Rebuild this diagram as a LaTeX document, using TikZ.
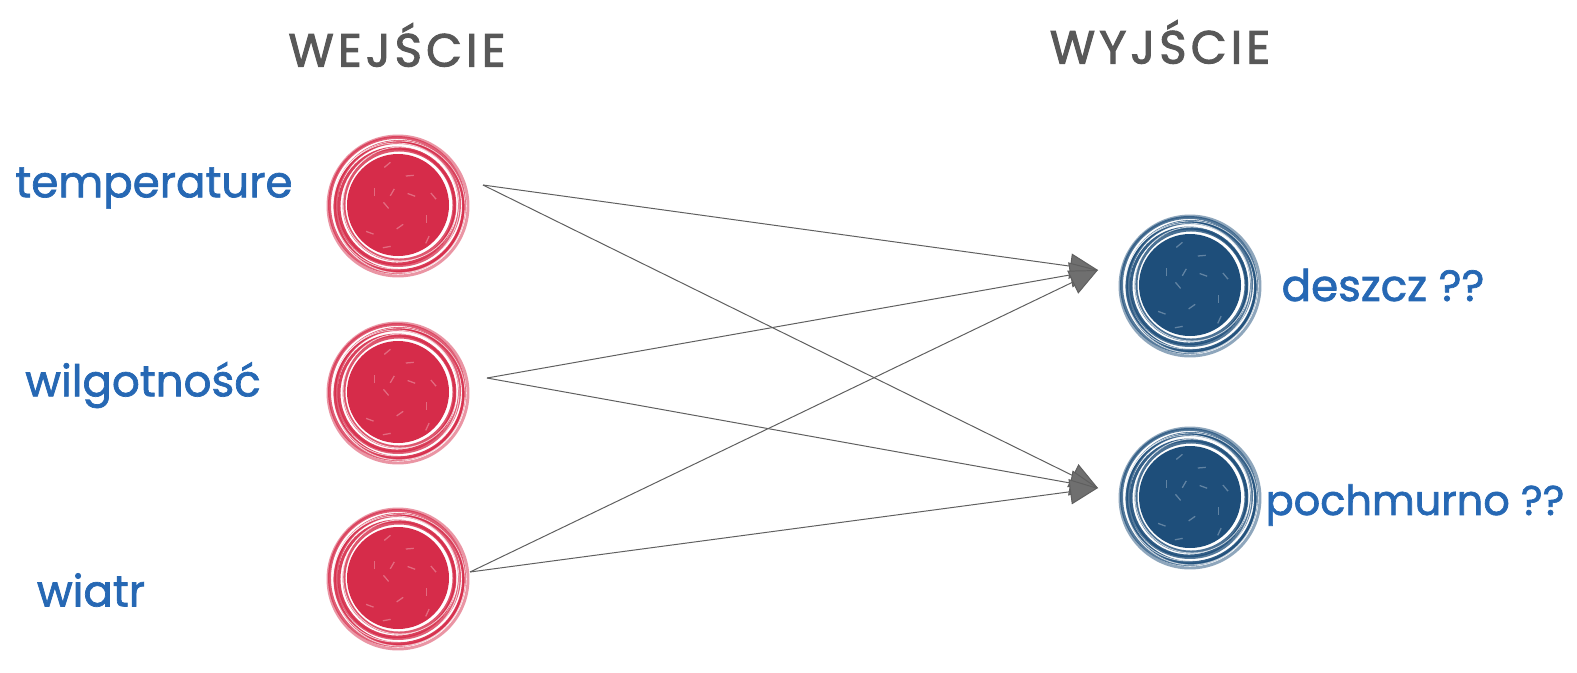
\documentclass[tikz,border=0pt]{standalone}
\usepackage{fontspec}
\setmainfont{Poppins}
\newfontfamily\lblfont[FakeBold=1.6]{Poppins}
\newfontfamily\hdfont[FakeBold=2.2,LetterSpace=9]{Poppins}
\usetikzlibrary{arrows.meta}
\definecolor{inred}{RGB}{214,44,74}
\definecolor{outblue}{RGB}{30,78,122}
\definecolor{lblblue}{RGB}{38,104,180}
\definecolor{hdgray}{RGB}{88,88,88}
\definecolor{wire}{RGB}{95,95,95}
\tikzset{
  pics/ball/.style={code={
    \fill[#1] (0,0) circle (51);
    \foreach \r/\dx/\dy/\o in {55/1/0/0.8, 58/-1/1/0.9, 61.5/0/-1/0.75, 64.5/1/1/0.9, 67.5/-1/0/0.75, 70/0/1/0.5}
      \draw[#1, line width=2.1pt, opacity=\o] (\dx,\dy) circle (\r);
    \foreach \r/\dx/\dy in {57/2/-1, 63/-2/1, 66/1/2}
      \draw[white, line width=0.6pt, opacity=0.7] (\dx,\dy) circle (\r);
    \foreach \a/\rr in {20/30, 75/20, 130/38, 200/25, 250/40, 310/15, 340/35, 160/10, 100/42, 285/30, 45/44, 230/12}
      \draw[white, opacity=0.3, line width=0.9pt] (\a:\rr) -- ++(\a+70:8);
  }},
  holder/.style={circle, minimum size=3.5cm, inner sep=0pt},
  lbl/.style={text=lblblue, font=\lblfont\fontsize{31}{31}\selectfont},
  lblsmall/.style={text=lblblue, font=\lblfont\fontsize{29.5}{30}\selectfont},
  hd/.style={text=hdgray, font=\hdfont\fontsize{33}{33}\selectfont},
  wirearrow/.style={draw=wire, line width=0.7pt, -{Triangle[length=20pt, width=18pt, fill=wire!90]}}
}
\begin{document}
\begin{tikzpicture}[x=0.025cm,y=-0.025cm]
\useasboundingbox (0,0) rectangle (1577,672);
\fill[white] (0,0) rectangle (1577,672);

% headings
\node[hd] (hin) at (397,45) {WEJŚCIE};
\node[hd] (hout) at (1160,42) {WYJŚCIE};

% input neurons
\node[holder] (i1) at (398,205) {};
\node[holder] (i2) at (398,392) {};
\node[holder] (i3) at (398,578) {};
\pic at (i1) {ball=inred};
\pic at (i2) {ball=inred};
\pic at (i3) {ball=inred};

% output neurons
\node[holder] (o1) at (1190,285) {};
\node[holder] (o2) at (1190,497) {};
\pic at (o1) {ball=outblue};
\pic at (o2) {ball=outblue};

% labels
\node[lbl] (l1) at (154,188) {temperature};
\node[lbl] (l2) at (143,385) {wilgotność};
\node[lbl] (l3) at (91,590) {wiatr};
\node[lbl] (l4) at (1383,285) {deszcz ??};
\node[lblsmall] (l5) at (1415,505) {pochmurno ??};

% wire endpoints
\coordinate (s1) at (483,185);
\coordinate (s2) at (487,378);
\coordinate (s3) at (470,572);
\coordinate (t1) at (1098,270);
\coordinate (t2) at (1098,488);

\foreach \s in {s1,s2,s3}{
  \draw[wirearrow] (\s) -- (t1);
  \draw[wirearrow] (\s) -- (t2);
}
\end{tikzpicture}
\end{document}
